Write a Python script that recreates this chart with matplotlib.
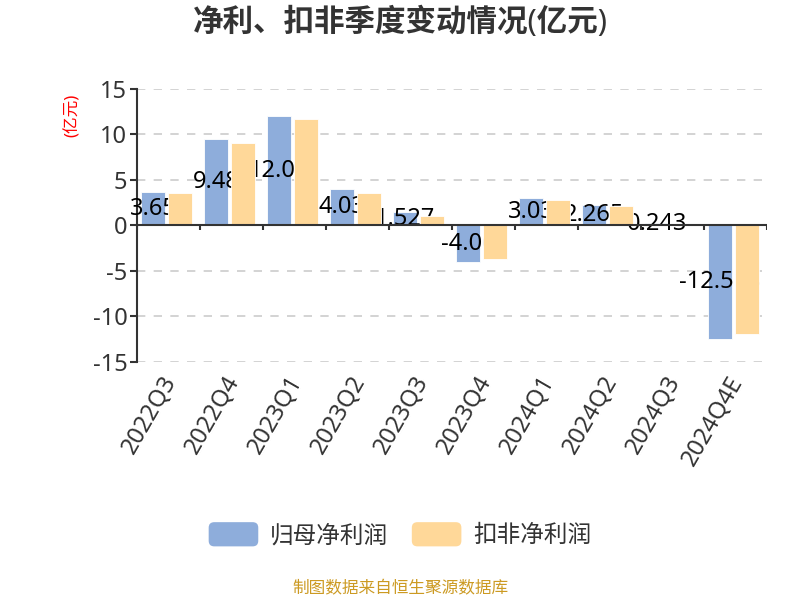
import numpy as np
import matplotlib
matplotlib.use("Agg")
import matplotlib.pyplot as plt
import matplotlib.transforms as mtransforms
from matplotlib.patches import FancyBboxPatch, Patch
from matplotlib.legend_handler import HandlerPatch

plt.rcParams['font.family'] = ['Noto Sans', 'Noto Sans CJK SC', 'DejaVu Sans']
plt.rcParams['axes.unicode_minus'] = False

# data
quarters = ['2022Q3', '2022Q4', '2023Q1', '2023Q2', '2023Q3',
            '2023Q4', '2024Q1', '2024Q2', '2024Q3', '2024Q4E']
net_profit = [3.65, 9.48, 12.02, 4.03, 1.527, -4.06, 3.03, 2.265, 0.243, -12.518]
deducted_profit = [3.6, 9.06, 11.7, 3.58, 0.99, -3.72, 2.85, 2.1, 0.0, -11.94]

blue = '#8eaddb'
orange = '#ffd899'


class RoundHandler(HandlerPatch):
    def create_artists(self, legend, orig_handle, xdescent, ydescent,
                       width, height, fontsize, trans):
        p = FancyBboxPatch((-xdescent, -ydescent), width, height,
                           boxstyle="round,pad=0,rounding_size=4",
                           facecolor=orig_handle.get_facecolor(),
                           edgecolor='none', transform=trans)
        return [p]


fig = plt.figure(figsize=(8, 6), dpi=100)
ax = fig.add_axes([0.17125, 0.3967, 0.7875, 0.455])

x = np.arange(len(quarters))
w = 0.38
ax.bar(x - 0.245, net_profit, w, color=blue, edgecolor='white', linewidth=0.6, zorder=2)
for xi, v in zip(x, net_profit):
    ax.text(xi - 0.245, v / 2, f'{v:g}', ha='center', va='center',
            fontsize=17, color='black', zorder=3)
ax.bar(x + 0.18, deducted_profit, w, color=orange, edgecolor='white', linewidth=0.6, zorder=4)

ax.set_xlim(-0.5, len(quarters) - 0.5)
ax.set_ylim(-15, 15)
ax.set_yticks([-15, -10, -5, 0, 5, 10, 15])
ax.yaxis.grid(True, linestyle=(0, (5, 5)), color='#cccccc', linewidth=1.2, zorder=0)
ax.axhline(0, color='#333333', linewidth=1.5, zorder=5)
ax.vlines(np.arange(len(quarters) + 1) - 0.5, -0.55, 0, color='#333333', linewidth=1.5, zorder=5)

for s in ['top', 'right', 'bottom']:
    ax.spines[s].set_visible(False)
ax.spines['left'].set_color('#333333')
ax.spines['left'].set_linewidth(1.5)
ax.tick_params(axis='y', length=5, width=1.5, color='#333333', labelcolor='#333333', labelsize=17, pad=2)
ax.set_xticks(x)
ax.set_xticklabels(quarters, rotation=60, ha='right', rotation_mode='anchor',
                   fontsize=17, color='#333333')
ax.tick_params(axis='x', length=0, pad=7)
shift = mtransforms.ScaledTranslation(-8 / 100, 0, fig.dpi_scale_trans)
for lbl in ax.get_xticklabels():
    lbl.set_transform(lbl.get_transform() + shift)

fig.text(0.091, 0.808, '(亿元)', rotation=90, color='red', fontsize=12, ha='center', va='center')
fig.text(0.5, 0.962, '净利、扣非季度变动情况(亿元)', fontsize=22, fontweight='bold',
         color='#333333', ha='center', va='center')

handles = [Patch(facecolor=blue, label='归母净利润'), Patch(facecolor=orange, label='扣非净利润')]
fig.legend(handles=handles, loc='center', bbox_to_anchor=(0.5, 0.108), ncol=2, frameon=False,
           fontsize=17, handlelength=2.1, handleheight=1.2, handletextpad=0.5, columnspacing=1.0,
           handler_map={Patch: RoundHandler()}, labelcolor='#333333')

fig.text(0.5, 0.018, '制图数据来自恒生聚源数据库', fontsize=12, color='#cc9a22', ha='center', va='center')

fig.savefig('out.png', dpi=100)
